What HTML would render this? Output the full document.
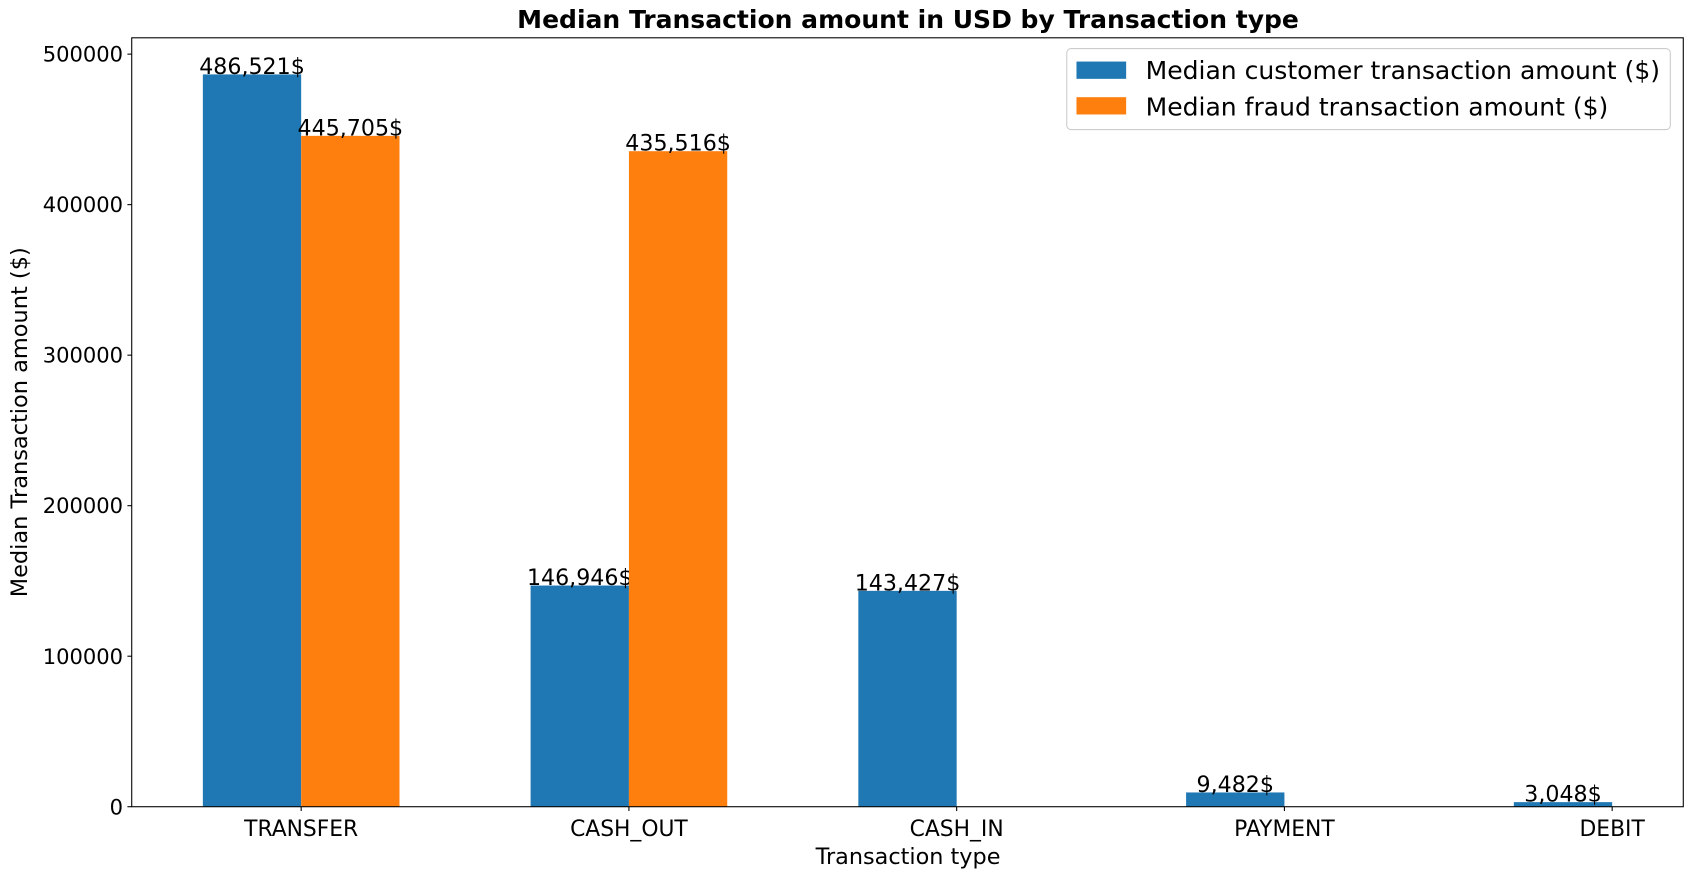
<!DOCTYPE html>
<html><head><meta charset="utf-8">
<style>
html,body{margin:0;padding:0;background:#fff;}
svg{display:block;font-family:"DejaVu Sans","Liberation Sans",sans-serif;}
</style></head>
<body>
<svg id="chart" width="1693" height="878" viewBox="0 0 1568 813" preserveAspectRatio="none" xmlns="http://www.w3.org/2000/svg">
<rect width="1568" height="813" fill="#fff"/>
<text x="841" y="26" text-anchor="middle" font-size="23" font-weight="bold" textLength="724" lengthAdjust="spacingAndGlyphs">Median Transaction amount in USD by Transaction type</text>
<g id="bars"></g>
<g id="axes"></g>
<text x="841" y="800" text-anchor="middle" font-size="20.7">Transaction type</text>
<text transform="translate(25,391) rotate(-90)" text-anchor="middle" font-size="20.8">Median Transaction amount ($)</text>
<g>
<rect x="988" y="45" width="559" height="75" rx="4" fill="#fff" stroke="#ccc"/>
<rect x="997" y="57" width="46" height="16" fill="#1f77b4"/>
<text x="1061" y="73" font-size="23.2">Median customer transaction amount ($)</text>
<rect x="997" y="90" width="46" height="16" fill="#ff7f0e"/>
<text x="1061" y="107" font-size="23.2">Median fraud transaction amount ($)</text>
</g>
</svg>
<script>
const categories = ["TRANSFER","CASH_OUT","CASH_IN","PAYMENT","DEBIT"];
const customerValues = [486521,146946,143427,9482,3048];
const fraudValues = [445705,435516,0,0,0];
const yTicks = [0,100000,200000,300000,400000,500000];

const L=122,R=1559,T=35,B=747;
const yMax=510848;
const xMin=-0.517,xMax=4.217;
const xs=v=>L+(v-xMin)/(xMax-xMin)*(R-L);
const ys=v=>B-v/yMax*(B-T);
const bw=0.3;
const NS="http://www.w3.org/2000/svg";
const bars=document.getElementById('bars');
const axes=document.getElementById('axes');
function mk(tag,attrs,parent){const e=document.createElementNS(NS,tag);for(const k in attrs)e.setAttribute(k,attrs[k]);parent.appendChild(e);return e;}
const fmt=v=>v.toLocaleString('en-US')+'$';
categories.forEach((c,i)=>{
  const series=[[customerValues[i],'#1f77b4',-bw,'customer'],[fraudValues[i],'#ff7f0e',0,'fraud']];
  series.forEach(([v,col,off,nm])=>{
    if(v<=0)return;
    const x0=xs(i+off),x1=xs(i+off+bw);
    const r=mk('rect',{x:x0,y:ys(v),width:x1-x0,height:B-ys(v),fill:col},bars);
    
    
    const t=mk('text',{x:(x0+x1)/2,y:ys(v)-0.5,'text-anchor':'middle','font-size':20.5},bars);
    t.textContent=fmt(v);
    
    
  });
  const tx=xs(i);
  mk('line',{x1:tx,x2:tx,y1:B,y2:B+4,stroke:'#000','stroke-width':1},axes);
  const lt=mk('text',{x:tx,y:B+27,'text-anchor':'middle','font-size':20.2},axes);
  lt.textContent=c;
  
  
});
yTicks.forEach(v=>{
  const y=ys(v);
  mk('line',{x1:L-4,x2:L,y1:y,y2:y,stroke:'#000','stroke-width':1},axes);
  const t=mk('text',{x:L-8,y:y+7,'text-anchor':'end','font-size':19.5},axes);
  t.textContent=v;
  
  
});
const f=mk('rect',{x:L,y:T,width:R-L,height:B-T,fill:'none',stroke:'#000','stroke-width':1},axes);


</script>
</body></html>
